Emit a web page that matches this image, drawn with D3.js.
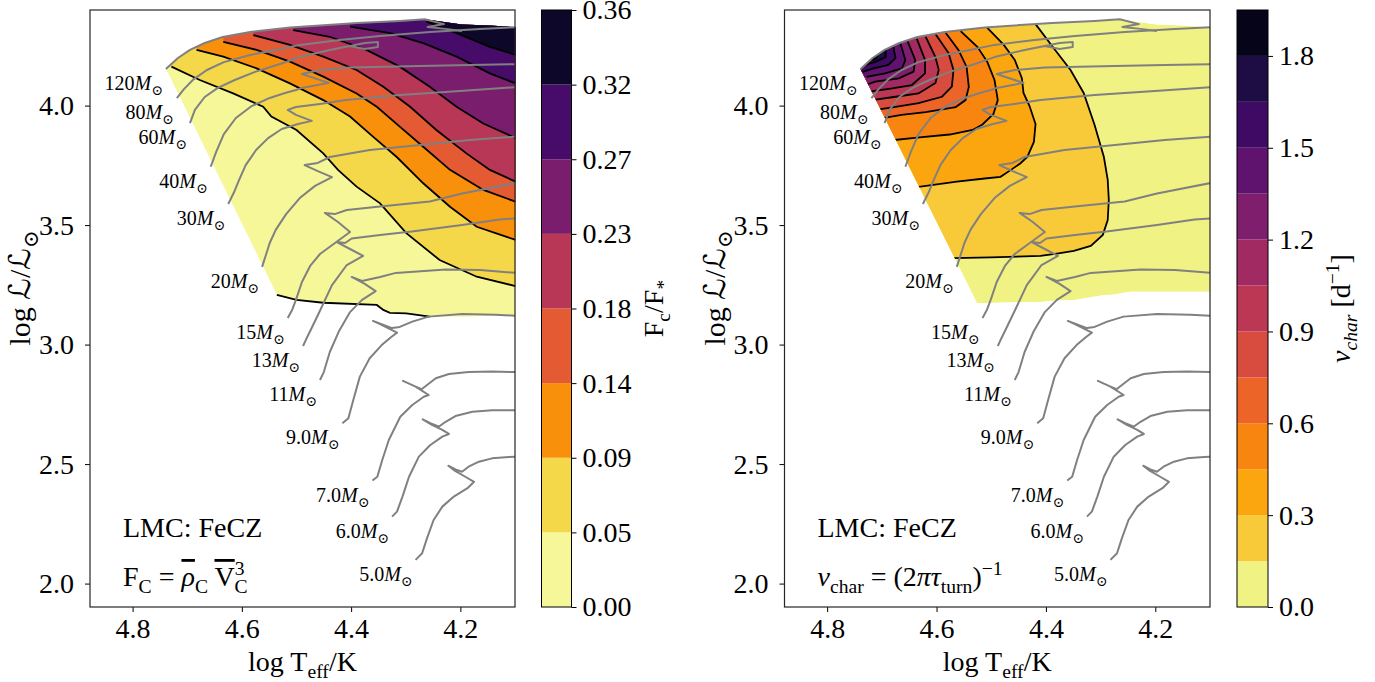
<!DOCTYPE html>
<html>
<head>
<meta charset="utf-8">
<script src="https://cdn.jsdelivr.net/npm/d3@7"></script>
<style>
  body { margin: 0; background: #fff; }
  svg text { font-family: "Liberation Serif", "Times New Roman", "DejaVu Serif", "DejaVu Sans", serif; fill: #000; }
</style>
</head>
<body>
<svg id="chart" width="1375" height="682"></svg>
<script>
// ---- axes ----
var xDomain = [4.878, 4.10];   // log Teff, reversed
var yDomain = [1.902, 4.40];   // log L/Lsun (spectroscopic)
var xTicks = [4.8, 4.6, 4.4, 4.2];
var yTicks = [2.0, 2.5, 3.0, 3.5, 4.0];

// ---- evolutionary tracks [logTeff, logL] ----
var trackMasses = ["120", "80", "60", "40", "30", "20", "15", "13", "11", "9.0", "7.0", "6.0", "5.0"];
var track120 = [[4.739,4.153],[4.717,4.199],[4.695,4.233],[4.668,4.262],[4.635,4.287],[4.585,4.308],[4.512,4.327],[4.389,4.346],[4.311,4.354],[4.265,4.361],[4.230,4.341],[4.260,4.329],[4.227,4.321],[4.197,4.312]];
var track80 = [[4.719,4.031],[4.706,4.069],[4.688,4.111],[4.664,4.149],[4.633,4.182],[4.585,4.212],[4.539,4.233],[4.494,4.254],[4.421,4.274],[4.347,4.291],[4.256,4.308],[4.164,4.321],[4.099,4.328]];
var track60 = [[4.695,3.927],[4.686,3.982],[4.668,4.036],[4.644,4.074],[4.613,4.107],[4.576,4.141],[4.530,4.174],[4.494,4.203],[4.439,4.233],[4.402,4.249],[4.375,4.262],[4.351,4.266],[4.351,4.245],[4.375,4.237],[4.402,4.249]];
var track40 = [[4.657,3.744],[4.647,3.806],[4.633,3.881],[4.611,3.948],[4.582,3.998],[4.549,4.032],[4.521,4.053],[4.501,4.065],[4.490,4.074],[4.441,4.095],[4.490,4.132],[4.457,4.149],[4.402,4.159],[4.274,4.166],[4.183,4.170],[4.099,4.173]];
var track30 = [[4.625,3.588],[4.615,3.634],[4.605,3.689],[4.593,3.751],[4.574,3.814],[4.552,3.864],[4.527,3.902],[4.497,3.923],[4.472,3.936],[4.501,3.961],[4.516,3.982],[4.501,3.994],[4.457,4.007],[4.410,4.023],[4.311,4.044],[4.201,4.061],[4.099,4.077]];
var track20 = [[4.563,3.325],[4.556,3.375],[4.549,3.425],[4.538,3.480],[4.519,3.546],[4.494,3.613],[4.466,3.664],[4.435,3.701],[4.461,3.726],[4.485,3.751],[4.461,3.760],[4.439,3.785],[4.366,3.814],[4.274,3.835],[4.183,3.856],[4.099,3.870]];
var track15 = [[4.516,3.111],[4.508,3.145],[4.501,3.187],[4.490,3.262],[4.475,3.329],[4.457,3.379],[4.432,3.421],[4.402,3.471],[4.424,3.513],[4.448,3.551],[4.430,3.546],[4.408,3.563],[4.347,3.578],[4.256,3.599],[4.197,3.632],[4.099,3.676]];
var track13 = [[4.488,2.994],[4.483,3.019],[4.474,3.061],[4.459,3.132],[4.435,3.249],[4.408,3.333],[4.378,3.371],[4.402,3.400],[4.426,3.429],[4.411,3.425],[4.399,3.444],[4.347,3.459],[4.289,3.473],[4.197,3.500],[4.128,3.523],[4.099,3.528]];
var track11 = [[4.457,2.852],[4.450,2.885],[4.439,2.969],[4.422,3.057],[4.402,3.136],[4.380,3.187],[4.355,3.224],[4.375,3.254],[4.399,3.283],[4.380,3.266],[4.347,3.283],[4.318,3.300],[4.227,3.314],[4.164,3.312],[4.099,3.300]];
var track9 = [[4.416,2.671],[4.405,2.692],[4.396,2.768],[4.384,2.866],[4.366,2.943],[4.344,2.998],[4.326,3.033],[4.316,3.050],[4.347,3.086],[4.360,3.099],[4.325,3.069],[4.311,3.074],[4.288,3.096],[4.258,3.117],[4.197,3.128],[4.136,3.125],[4.099,3.121]];
var track7 = [[4.361,2.431],[4.352,2.447],[4.343,2.517],[4.331,2.601],[4.310,2.698],[4.288,2.747],[4.267,2.782],[4.258,2.789],[4.282,2.824],[4.305,2.848],[4.285,2.827],[4.271,2.813],[4.261,2.831],[4.245,2.859],[4.221,2.877],[4.185,2.885],[4.142,2.887],[4.097,2.885]];
var track6 = [[4.325,2.280],[4.316,2.301],[4.306,2.364],[4.294,2.447],[4.276,2.531],[4.255,2.580],[4.233,2.615],[4.221,2.626],[4.233,2.643],[4.252,2.664],[4.269,2.687],[4.255,2.671],[4.239,2.657],[4.227,2.677],[4.209,2.701],[4.178,2.719],[4.142,2.725],[4.097,2.725]];
var track5 = [[4.282,2.099],[4.270,2.127],[4.261,2.190],[4.249,2.266],[4.233,2.322],[4.212,2.364],[4.187,2.399],[4.175,2.426],[4.191,2.447],[4.212,2.475],[4.222,2.493],[4.209,2.478],[4.197,2.468],[4.185,2.489],[4.166,2.510],[4.142,2.524],[4.111,2.530],[4.097,2.531]];
var tracks = [track120, track80, track60, track40, track30, track20, track15, track13, track11, track9, track7, track6, track5];

// ---- left panel: convective flux F_c/F_* ----
var fcLevels = [0, 0.045, 0.09, 0.135, 0.18, 0.225, 0.27, 0.315, 0.36];
var fcTickLabels = ["0.00", "0.05", "0.09", "0.14", "0.18", "0.23", "0.27", "0.32", "0.36"];
var fcColors = ["#f6f799", "#f4d84a", "#f8900c", "#e35a33", "#b83656", "#7b1d6d", "#470b6a", "#0d0829"];
var fcDomain = [[4.739,4.153],[4.717,4.199],[4.695,4.233],[4.668,4.262],[4.635,4.287],[4.585,4.308],[4.512,4.327],[4.389,4.346],[4.311,4.354],[4.265,4.361],[4.230,4.350],[4.197,4.339],[4.146,4.335],[4.099,4.328],
                [4.099,3.124],[4.183,3.116],[4.256,3.117],[4.299,3.131],[4.329,3.133],[4.341,3.145],[4.353,3.166],[4.451,3.175],[4.500,3.187],[4.536,3.208]];
var fcBoundary = [[4.536,3.208],[4.500,3.187],[4.451,3.175],[4.353,3.166],[4.341,3.145],[4.329,3.133],[4.299,3.131],[4.256,3.117]];
var fcC1 = [[4.729,4.163],[4.677,4.107],[4.616,4.051],[4.561,3.995],[4.546,3.954],[4.500,3.898],[4.451,3.800],[4.424,3.731],[4.390,3.661],[4.347,3.591],[4.299,3.466],[4.238,3.354],[4.170,3.284],[4.099,3.245]];
var fcC2 = [[4.683,4.233],[4.634,4.205],[4.573,4.156],[4.512,4.093],[4.451,4.023],[4.402,3.954],[4.360,3.870],[4.317,3.786],[4.268,3.675],[4.219,3.577],[4.170,3.493],[4.099,3.438]];
var fcC3 = [[4.634,4.267],[4.573,4.233],[4.512,4.184],[4.451,4.121],[4.390,4.051],[4.353,3.995],[4.311,3.912],[4.268,3.828],[4.219,3.731],[4.158,3.647],[4.099,3.598]];
var fcC4 = [[4.579,4.295],[4.512,4.254],[4.451,4.205],[4.390,4.149],[4.341,4.079],[4.292,3.995],[4.244,3.898],[4.189,3.800],[4.146,3.731],[4.099,3.682]];
var fcC5 = [[4.506,4.316],[4.439,4.288],[4.372,4.233],[4.311,4.163],[4.256,4.079],[4.207,3.995],[4.158,3.925],[4.099,3.864]];
var fcC6 = [[4.402,4.330],[4.329,4.303],[4.268,4.261],[4.207,4.205],[4.146,4.135],[4.099,4.093]];
var fcC7 = [[4.262,4.351],[4.207,4.303],[4.146,4.246],[4.099,4.212]];

// ---- right panel: characteristic frequency nu_char ----
var nuLevels = [0, 0.15, 0.3, 0.45, 0.6, 0.75, 0.9, 1.05, 1.2, 1.35, 1.5, 1.65, 1.8, 1.95];
var nuTicks = [0, 0.3, 0.6, 0.9, 1.2, 1.5, 1.8];
var nuColors = ["#f0f283", "#f8ca39", "#fca60f", "#f8850f", "#ec6428", "#d84b3f", "#bc3754", "#a12a62", "#7f1e6c", "#60136e", "#3e0a64", "#1e0c45", "#050418"];
var nuDomain = [[4.739,4.153],[4.717,4.199],[4.695,4.233],[4.668,4.262],[4.635,4.287],[4.585,4.308],[4.512,4.327],[4.389,4.346],[4.311,4.354],[4.265,4.361],[4.230,4.350],[4.197,4.339],[4.146,4.335],[4.099,4.328],
                [4.099,3.221],[4.245,3.221],[4.260,3.216],[4.274,3.210],[4.296,3.206],[4.318,3.198],[4.347,3.187],[4.380,3.184],[4.410,3.178],[4.470,3.176],[4.526,3.173]];
var nuC1 = [[4.419,4.341],[4.386,4.241],[4.355,4.149],[4.331,4.053],[4.311,3.919],[4.294,3.785],[4.287,3.689],[4.285,3.605],[4.287,3.521],[4.296,3.459],[4.318,3.413],[4.349,3.392],[4.380,3.381],[4.410,3.371],[4.501,3.365],[4.569,3.362]];
var nuC2 = [[4.508,4.327],[4.477,4.254],[4.457,4.191],[4.444,4.115],[4.441,4.053],[4.430,3.998],[4.419,3.923],[4.422,3.848],[4.434,3.785],[4.447,3.758],[4.464,3.731],[4.483,3.702],[4.512,3.695],[4.563,3.682],[4.636,3.659]];
var nuC3 = [[4.556,4.312],[4.525,4.245],[4.507,4.182],[4.494,4.107],[4.488,4.023],[4.496,3.965],[4.516,3.921],[4.534,3.898],[4.576,3.879],[4.631,3.867],[4.677,3.856]];
var nuC4 = [[4.583,4.304],[4.560,4.233],[4.545,4.162],[4.541,4.078],[4.547,4.023],[4.565,3.994],[4.620,3.973],[4.664,3.961],[4.701,3.947]];
var nuC5 = [[4.602,4.300],[4.578,4.220],[4.569,4.149],[4.572,4.079],[4.590,4.037],[4.633,4.010],[4.675,3.995],[4.711,3.982]];
var nuC6 = [[4.620,4.289],[4.602,4.203],[4.596,4.149],[4.602,4.095],[4.633,4.051],[4.675,4.037],[4.718,4.023]];
var nuC7 = [[4.636,4.279],[4.621,4.191],[4.621,4.135],[4.645,4.086],[4.681,4.072],[4.724,4.058]];
var nuC8 = [[4.653,4.270],[4.639,4.191],[4.642,4.142],[4.669,4.114],[4.712,4.100],[4.730,4.086]];
var nuC9 = [[4.666,4.260],[4.657,4.191],[4.663,4.156],[4.694,4.135],[4.728,4.120]];
var nuC10 = [[4.679,4.247],[4.675,4.199],[4.688,4.170],[4.715,4.156],[4.735,4.141]];
var nuC11 = [[4.693,4.235],[4.693,4.203],[4.711,4.184],[4.735,4.166]];
var nuC12 = [[4.706,4.220],[4.711,4.197],[4.732,4.182]];

var svg = d3.select("#chart");
var plotTop = 10, plotH = 597;

// tspans with sub/superscripts; parts: {t, it, sub, sup, dx, over}
function rich(sel, parts, fs) {
    var shift = 0;
    parts.forEach(function(p) {
        var ts = sel.append("tspan").text(p.t);
        var target = p.sub ? fs * 0.25 : (p.sup ? -fs * 0.4 : 0);
        if (target !== shift) { ts.attr("dy", target - shift); shift = target; }
        if (p.dx) ts.attr("dx", p.dx);
        if (p.sub || p.sup) ts.style("font-size", (fs * 0.7) + "px");
        if (p.it) ts.style("font-style", "italic");
        if (p.over) ts.style("text-decoration", "overline");
    });
    return sel;
}

function drawPanel(p) {
    var x = d3.scaleLinear().domain(xDomain).range([0, p.width]);
    var y = d3.scaleLinear().domain(yDomain).range([plotH, 0]);
    var line = d3.line().x(function(d) { return x(d[0]); }).y(function(d) { return y(d[1]); });

    var g = svg.append("g").attr("transform", "translate(" + p.left + "," + plotTop + ")");
    var defs = g.append("defs");
    defs.append("clipPath").attr("id", p.id + "-frame")
        .append("rect").attr("width", p.width).attr("height", plotH);
    defs.append("clipPath").attr("id", p.id + "-dom")
        .append("path").attr("d", line(p.domain) + "Z");

    // filled bands: lowest band fills the whole domain, each contour paints the region beyond it
    var fill = g.append("g").attr("clip-path", "url(#" + p.id + "-dom)");
    fill.append("path").attr("d", line(p.domain) + "Z").attr("fill", p.colors[0]);
    p.contours.forEach(function(c, i) {
        var a = c[0], b = c[c.length - 1];
        var poly = c.concat([[p.closeX, b[1]], [p.closeX, 4.6], [a[0], 4.6]]);
        fill.append("path").attr("d", line(poly) + "Z").attr("fill", p.colors[i + 1]);
    });
    fill.selectAll("path.cline").data(p.contours).enter().append("path")
        .attr("class", "cline").attr("d", line)
        .attr("fill", "none").attr("stroke", "#000").attr("stroke-width", 1.8);

    var over = g.append("g").attr("clip-path", "url(#" + p.id + "-frame)");
    if (p.boundary) {
        over.append("path").attr("d", line(p.boundary))
            .attr("fill", "none").attr("stroke", "#000").attr("stroke-width", 1.8);
    }
    over.selectAll("path.track").data(tracks).enter().append("path")
        .attr("class", "track").attr("d", line)
        .attr("fill", "none").attr("stroke", "#808080").attr("stroke-width", 2)
        .attr("stroke-linejoin", "round");

    // mass labels next to the ZAMS end of each track
    tracks.forEach(function(t, i) {
        var txt = g.append("text")
            .attr("x", x(t[0][0]) - 3).attr("y", y(t[0][1]) + 21)
            .attr("text-anchor", "end").style("font-size", "20px");
        rich(txt, [{t: trackMasses[i]}, {t: "M", it: true}, {t: "\u2299", sub: true}], 20);
    });

    // axes
    var xa = g.append("g").attr("transform", "translate(0," + plotH + ")")
        .call(d3.axisBottom(x).tickValues(xTicks).tickFormat(d3.format(".1f")).tickSize(5).tickPadding(6));
    var ya = g.append("g")
        .call(d3.axisLeft(y).tickValues(yTicks).tickFormat(d3.format(".1f")).tickSize(5).tickPadding(11));
    [xa, ya].forEach(function(a) {
        a.select(".domain").remove();
        a.selectAll("line").attr("stroke", "#000");
        a.selectAll("text").style("font-size", "28px");
    });
    g.append("rect").attr("width", p.width).attr("height", plotH)
        .attr("fill", "none").attr("stroke", "#262626").attr("stroke-width", 1.2);

    g.append("text").attr("x", 33).attr("y", 527).style("font-size", "28px").text("LMC: FeCZ");
    rich(g.append("text").attr("x", 33).attr("y", 576).style("font-size", "28px"), p.formula, 28);

    // axis titles
    rich(g.append("text").attr("x", p.width / 2).attr("y", 661).attr("text-anchor", "middle")
        .style("font-size", "28px"), [{t: "log T"}, {t: "eff", sub: true}, {t: "/K"}], 28);
    rich(g.append("text").attr("transform", "translate(-60,278) rotate(-90)")
        .attr("text-anchor", "middle").style("font-size", "30px"),
        [{t: "log "}, {t: "\u2112", it: true}, {t: "/"}, {t: "\u2112", it: true}, {t: "\u2299", sub: true}], 30);
}

function drawColorbar(c) {
    var y = d3.scaleLinear().domain([c.levels[0], c.levels[c.levels.length - 1]]).range([plotH, 0]);
    var g = svg.append("g").attr("transform", "translate(" + c.left + "," + plotTop + ")");
    g.selectAll("rect.band").data(c.colors).enter().append("rect")
        .attr("class", "band").attr("x", 0).attr("width", c.width)
        .attr("y", function(d, i) { return y(c.levels[i + 1]); })
        .attr("height", function(d, i) { return y(c.levels[i]) - y(c.levels[i + 1]); })
        .attr("fill", function(d) { return d; });
    g.append("rect").attr("width", c.width).attr("height", plotH)
        .attr("fill", "none").attr("stroke", "#000").attr("stroke-width", 1);
    var ax = g.append("g").attr("transform", "translate(" + c.width + ",0)")
        .call(d3.axisRight(y).tickValues(c.ticks).tickFormat(function(d, i) { return c.tickLabels[i]; })
            .tickSize(5).tickPadding(6));
    ax.select(".domain").remove();
    ax.selectAll("line").attr("stroke", "#000");
    ax.selectAll("text").style("font-size", "28px");
    rich(g.append("text").attr("transform", "translate(" + c.labelX + "," + (plotH / 2) + ") rotate(-90)")
        .attr("text-anchor", "middle").style("font-size", "28px"), c.label, 28);
}

drawPanel({
    id: "fc", left: 90, width: 425, domain: fcDomain, colors: fcColors, closeX: 4.0,
    contours: [fcC1, fcC2, fcC3, fcC4, fcC5, fcC6, fcC7], boundary: fcBoundary,
    formula: [{t: "F"}, {t: "C", sub: true}, {t: " = "}, {t: "\u03c1", it: true, over: true}, {t: "C", sub: true},
              {t: " "}, {t: "V", over: true}, {t: "3", sup: true}, {t: "C", sub: true, dx: -10}]
});
drawPanel({
    id: "nu", left: 784.5, width: 425.5, domain: nuDomain, colors: nuColors, closeX: 5.0,
    contours: [nuC1, nuC2, nuC3, nuC4, nuC5, nuC6, nuC7, nuC8, nuC9, nuC10, nuC11, nuC12],
    formula: [{t: "\u03bd", it: true}, {t: "char", sub: true}, {t: " = (2"}, {t: "\u03c0\u03c4", it: true},
              {t: "turn", sub: true}, {t: ")"}, {t: "\u22121", sup: true}]
});

drawColorbar({
    left: 541.5, width: 30, levels: fcLevels, colors: fcColors, ticks: fcLevels, tickLabels: fcTickLabels,
    labelX: 121, label: [{t: "F"}, {t: "c", sub: true}, {t: "/F"}, {t: "*", sub: true}]
});
drawColorbar({
    left: 1237, width: 31, levels: nuLevels, colors: nuColors, ticks: nuTicks,
    tickLabels: nuTicks.map(d3.format(".1f")),
    labelX: 113, label: [{t: "\u03bd", it: true}, {t: "char", sub: true, it: true}, {t: " [d"}, {t: "\u22121", sup: true}, {t: "]"}]
});
</script>
</body>
</html>
